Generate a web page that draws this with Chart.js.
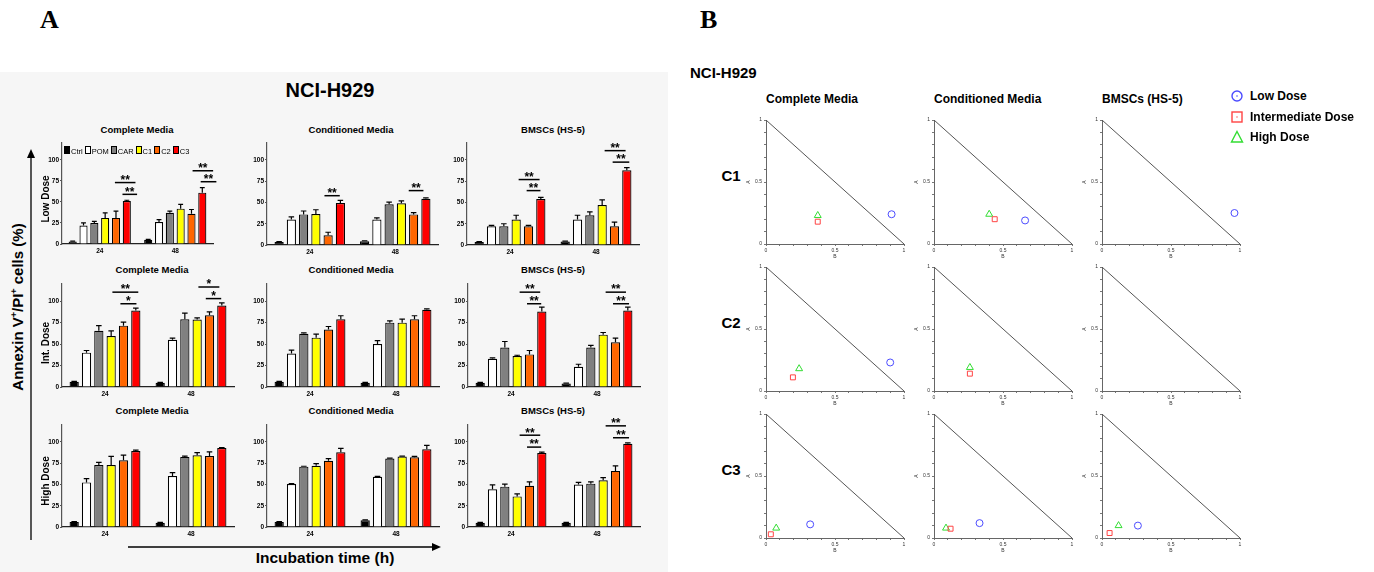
<!DOCTYPE html>
<html>
<head>
<meta charset="utf-8">
<title>NCI-H929</title>
<script src="https://cdn.jsdelivr.net/npm/chart.js@4.4.0/dist/chart.umd.min.js"></script>
<style>
    body { margin: 0; width: 1374px; height: 572px; background: #fff; position: relative; overflow: hidden;
           font-family: "Liberation Sans", Arial, sans-serif; color: #000; }
    .abs { position: absolute; }
    .panelA { left: 0; top: 72px; width: 668px; height: 500px; background: #f6f6f6; }
    .letter { font-family: "Liberation Serif", "DejaVu Serif", serif; font-weight: bold; font-size: 26px; }
    .c { transform: translate(-50%, -50%); white-space: nowrap; }
    .b { font-weight: bold; }
    .rot { transform: translate(-50%, -50%) rotate(-90deg); white-space: nowrap; }
    .leg { display: flex; align-items: center; font-size: 7.5px; gap: 2px; }
    .leg i { display: inline-block; width: 4px; height: 6px; border: 1px solid #000; margin-right: 1px; }
    .tleg { font-size: 12px; font-weight: bold; display: flex; align-items: center; }
</style>
</head>
<body>
<div class="abs panelA"></div>
<div class="abs letter" style="left:40px;top:5px;">A</div>
<div class="abs letter" style="left:700px;top:5px;">B</div>
<svg class="abs" style="left:0;top:0;" width="680" height="572">
    <line x1="31" y1="540" x2="31" y2="156" stroke="#000" stroke-width="1.3"/>
    <polygon points="27,158 35,158 31,149" fill="#000"/>
    <line x1="128" y1="547" x2="434" y2="547" stroke="#000" stroke-width="1.3"/>
    <polygon points="432,543 432,551 441,547" fill="#000"/>
</svg>
<div id="root"></div>
<script>
// Categories
const treatments = ['Ctrl', 'POM', 'CAR', 'C1', 'C2', 'C3'];
const hours = ['24', '48'];
const media = ['Complete Media', 'Conditioned Media', 'BMSCs (HS-5)'];
const doseNames = ['Low Dose', 'Int. Dose', 'High Dose'];
const combos = ['C1', 'C2', 'C3'];
const barColors = ['#000000', '#ffffff', '#808080', '#ffff00', '#ff6600', '#ff0000'];
const yTicks = [0, 25, 50, 75, 100];

// % Annexin V+/PI+ cells: [24 h], [48 h], order Ctrl..C3
const lowComplete = [[3, 22, 25, 31, 31, 51], [5, 26, 37, 42, 36, 61]];
const lowCompleteErr = [[0.5, 3, 2, 6, 8, 1], [0.5, 3, 2, 5, 5, 6]];
const lowConditioned = [[3.5, 30, 36, 36.5, 11.5, 49.5], [4.5, 30, 48, 49, 36, 54.5]];
const lowConditionedErr = [[0.5, 3, 4, 5, 3.5, 3], [0.5, 2, 2.5, 3, 2, 1]];
const lowBmsc = [[3.5, 22, 22, 30, 22, 54], [4, 30, 35, 47, 22, 88]];
const lowBmscErr = [[0.5, 1, 3, 5, 1, 2], [0.5, 5, 4, 6, 5, 3]];

const intComplete = [[6, 40, 65.5, 59.5, 71.5, 89], [5, 55, 79, 78.5, 83.5, 95]];
const intCompleteErr = [[0.5, 2.5, 6, 6, 4, 3], [0.5, 2, 7, 2, 4, 3]];
const intConditioned = [[6, 39, 62, 57.5, 67, 79], [5, 50, 75, 75, 79, 90]];
const intConditionedErr = [[0.5, 4, 1, 4, 3.5, 4], [0.5, 4, 2, 4, 4, 1]];
const intBmsc = [[5, 33, 46, 36, 38, 88], [4, 23.5, 46, 61, 52, 89]];
const intBmscErr = [[0.5, 1, 7, 1, 4.5, 5], [0.5, 3, 2.5, 2.5, 5, 4]];

const highComplete = [[6, 52.5, 73, 73, 78.5, 89.5], [5, 60, 82.5, 84.5, 83.5, 93]];
const highCompleteErr = [[0.5, 4.5, 3, 10, 6, 1], [0.5, 4, 1, 3, 5, 0.5]];
const highConditioned = [[6, 50.5, 71, 72, 78, 88], [8, 59, 80.5, 83, 82, 91.5]];
const highConditionedErr = [[0.5, 0.5, 0.5, 2.5, 2.5, 4.5], [0.5, 0.5, 0.5, 0.5, 1, 4.5]];
const highBmsc = [[5, 44.5, 47.5, 36, 48.5, 87], [5, 50, 51, 55, 66, 98]];
const highBmscErr = [[0.5, 5, 3, 3, 4.5, 1], [0.5, 2.5, 2, 3, 6, 1]];

// significance bars: [time index, from bar, to bar, height (%), label]
const lowCompleteSig = [[0, 3.9, 5.8, 73, '**'], [0, 4.6, 5.95, 59, '**'], [1, 4.1, 6.0, 87, '**'], [1, 4.85, 6.3, 74, '**']];
const lowConditionedSig = [[0, 3.7, 4.95, 58, '**'], [1, 3.6, 4.8, 64, '**']];
const lowBmscSig = [[0, 3.2, 4.9, 77, '**'], [0, 3.85, 4.97, 64, '**'], [1, 3.2, 4.9, 111, '**'], [1, 3.85, 5.2, 97.5, '**']];
const intCompleteSig = [[0, 3.1, 5.2, 110.5, '**'], [0, 3.75, 5.05, 97, '*'], [1, 3.1, 4.8, 116.5, '*'], [1, 3.7, 4.95, 103, '*']];
const intBmscSig = [[0, 3.2, 4.87, 110.5, '**'], [0, 3.8, 4.95, 97, '**'], [1, 3.2, 4.85, 110.5, '**'], [1, 3.8, 5.1, 97, '**']];
const highBmscSig = [[0, 3.2, 4.87, 108, '**'], [0, 3.8, 4.95, 94, '**'], [1, 3.2, 4.85, 119, '**'], [1, 3.8, 5.1, 105, '**']];

// Panel B: [B, A] coordinates, rows C1..C3, columns per medium
const lowDosePts = [[[0.91, 0.24], [0.66, 0.19], [0.96, 0.25]],
                    [[0.90, 0.23], null, null],
                    [[0.32, 0.11], [0.33, 0.12], [0.26, 0.10]]];
const intDosePts = [[[0.375, 0.18], [0.44, 0.20], null],
                    [[0.195, 0.11], [0.26, 0.14], null],
                    [[0.035, 0.03], [0.12, 0.075], [0.055, 0.04]]];
const highDosePts = [[[0.375, 0.23], [0.40, 0.24], null],
                     [[0.24, 0.18], [0.26, 0.19], null],
                     [[0.074, 0.08], [0.087, 0.08], [0.12, 0.10]]];
const boundaryLine = [[0, 1], [1, 0]];
const doseLegend = ['Low Dose', 'Intermediate Dose', 'High Dose'];
const doseColors = ['#4b4bff', '#ff4444', '#33dd33'];
const doseShapes = ['circle', 'rect', 'triangle'];

Chart.defaults.font.family = '"Liberation Sans", Arial, sans-serif';
Chart.defaults.color = '#000';

const root = document.getElementById('root');

function addText(html, x, y, cls, size) {
    const d = document.createElement('div');
    d.className = 'abs ' + cls;
    d.style.left = x + 'px';
    d.style.top = y + 'px';
    d.style.fontSize = size + 'px';
    d.innerHTML = html;
    root.appendChild(d);
    return d;
}

function addCanvas(left, top, w, h) {
    const cv = document.createElement('canvas');
    cv.className = 'abs';
    cv.width = w;
    cv.height = h;
    cv.style.left = left + 'px';
    cv.style.top = top + 'px';
    cv.style.width = w + 'px';
    cv.style.height = h + 'px';
    root.appendChild(cv);
    return cv;
}

// error bars (upper whisker only) and significance lines
const barExtras = {
    id: 'barExtras',
    afterDatasetsDraw(chart, args, opts) {
        const ctx = chart.ctx;
        const yScale = chart.scales.y;
        ctx.save();
        ctx.strokeStyle = '#000';
        ctx.lineWidth = 1.2;
        chart.data.datasets.forEach((ds, i) => {
            chart.getDatasetMeta(i).data.forEach((bar, j) => {
                const top = yScale.getPixelForValue(ds.data[j] + ds.err[j]);
                const cap = bar.width * 0.3;
                ctx.beginPath();
                ctx.moveTo(bar.x, bar.y);
                ctx.lineTo(bar.x, top);
                ctx.moveTo(bar.x - cap, top);
                ctx.lineTo(bar.x + cap, top);
                ctx.stroke();
            });
        });
        ctx.lineWidth = 1.5;
        ctx.fillStyle = '#000';
        ctx.font = 'bold 12px "Liberation Sans", Arial, sans-serif';
        ctx.textAlign = 'center';
        ctx.textBaseline = 'bottom';
        (opts.sig || []).forEach(([g, a, b, y, label]) => {
            const x0 = chart.getDatasetMeta(0).data[g].x;
            const step = chart.getDatasetMeta(1).data[g].x - x0;
            const xa = x0 + a * step, xb = x0 + b * step;
            const py = yScale.getPixelForValue(y);
            ctx.beginPath();
            ctx.moveTo(xa, py);
            ctx.lineTo(xb, py);
            ctx.stroke();
            ctx.fillText(label, (xa + xb) / 2, py + 4);
        });
        ctx.restore();
    }
};

function makeBarChart(p) {
    const [L, R, T, B] = p.box;
    const wy = 22, hx = 14, padT = 14, padR = 4;
    const cv = addCanvas(L - wy, T - padT, R - L + wy + padR, B - T + padT + hx);
    new Chart(cv, {
        type: 'bar',
        data: {
            labels: hours,
            datasets: treatments.map((t, i) => ({
                label: t,
                data: [p.values[0][i], p.values[1][i]],
                err: [p.errors[0][i], p.errors[1][i]],
                backgroundColor: barColors[i],
                borderColor: '#000',
                borderWidth: 1.2,
                borderSkipped: 'start',
                categoryPercentage: 0.86,
                barPercentage: 0.75
            }))
        },
        options: {
            responsive: false,
            animation: false,
            layout: { padding: { top: padT, right: padR, left: 0, bottom: 0 } },
            plugins: { legend: { display: false }, tooltip: { enabled: false }, barExtras: { sig: p.sig } },
            scales: {
                x: {
                    grid: { display: false, drawTicks: false },
                    border: { display: true, color: '#222', width: 1.3 },
                    ticks: { font: { size: 6.5, weight: 'bold' }, padding: 3 },
                    afterFit: s => { s.height = hx; }
                },
                y: {
                    min: 0,
                    max: 120,
                    afterBuildTicks: s => { s.ticks = yTicks.map(v => ({ value: v })); },
                    ticks: { font: { size: 6.5, weight: 'bold' }, padding: 1 },
                    grid: { drawOnChartArea: false, tickLength: 2, color: '#555' },
                    border: { color: '#555', width: 1.2 },
                    afterFit: s => { s.width = wy; }
                }
            }
        },
        plugins: [barExtras]
    });
}

function makeTernary(row, col, L, T) {
    const w = 138, h = 125, wy = 20, hx = 16, padT = 4, padR = 5;
    const cv = addCanvas(L - wy, T - padT, w + wy + padR, h + padT + hx);
    const pts = [lowDosePts, intDosePts, highDosePts];
    const datasets = [{
        type: 'line',
        data: boundaryLine.map(([x, y]) => ({ x, y })),
        borderColor: '#555',
        borderWidth: 1,
        pointRadius: 0
    }];
    pts.forEach((set, k) => {
        const pt = set[row][col];
        datasets.push({
            type: 'scatter',
            label: doseLegend[k],
            data: pt ? [{ x: pt[0], y: pt[1] }] : [],
            pointStyle: doseShapes[k],
            pointRadius: k === 2 ? 4 : 3.5,
            borderColor: doseColors[k],
            backgroundColor: 'rgba(0,0,0,0)',
            borderWidth: 1
        });
    });
    const tickLabel = v => (Math.abs(v) < 1e-6 ? '0' : Math.abs(v - 0.5) < 1e-6 ? '0.5' : Math.abs(v - 1) < 1e-6 ? '1' : '');
    const axis = (title, fit) => ({
        type: 'linear',
        min: 0,
        max: 1,
        ticks: { stepSize: 0.1, autoSkip: false, maxRotation: 0, callback: tickLabel, font: { size: 5 }, color: '#333', padding: 2 },
        grid: { drawOnChartArea: false, tickLength: 2, color: '#777' },
        border: { color: '#666', width: 1 },
        title: { display: true, text: title, font: { size: 5 }, color: '#333', padding: 0 },
        afterFit: fit
    });
    new Chart(cv, {
        type: 'scatter',
        data: { datasets },
        options: {
            responsive: false,
            animation: false,
            layout: { padding: { top: padT, right: padR, left: 0, bottom: 0 } },
            plugins: { legend: { display: false }, tooltip: { enabled: false } },
            scales: {
                x: axis('B', s => { s.height = hx; }),
                y: axis('A', s => { s.width = wy; })
            }
        }
    });
}

// ---- Panel A ----
addText('NCI-H929', 330, 90, 'c b', 20);
addText('Annexin V<sup style="font-size:9px">+</sup>/PI<sup style="font-size:9px">+</sup> cells (%)', 17, 307, 'rot b', 15);
addText('Incubation time (h)', 325, 558, 'c b', 15.5);

const barPanels = [
    { values: lowComplete, errors: lowCompleteErr, sig: lowCompleteSig, box: [62, 213, 143, 244], title: [137, 129] },
    { values: lowConditioned, errors: lowConditionedErr, sig: lowConditionedSig, box: [267, 438, 143, 245], title: [351, 129] },
    { values: lowBmsc, errors: lowBmscErr, sig: lowBmscSig, box: [467, 639, 143, 245], title: [553, 129] },
    { values: intComplete, errors: intCompleteErr, sig: intCompleteSig, box: [62, 234, 284, 387], title: [152, 269] },
    { values: intConditioned, errors: intConditionedErr, sig: [], box: [267, 439, 284, 387], title: [351, 269] },
    { values: intBmsc, errors: intBmscErr, sig: intBmscSig, box: [468, 640, 284, 387], title: [553, 269] },
    { values: highComplete, errors: highCompleteErr, sig: [], box: [62, 234, 425, 527], title: [152, 410] },
    { values: highConditioned, errors: highConditionedErr, sig: [], box: [267, 439, 425, 527], title: [351, 410] },
    { values: highBmsc, errors: highBmscErr, sig: highBmscSig, box: [468, 640, 425, 527], title: [553, 410] }
];
barPanels.forEach((p, i) => {
    addText(media[i % 3], p.title[0], p.title[1], 'c b', 9.5);
    makeBarChart(p);
});
addText(doseNames[0], 45, 199, 'rot b', 10);
addText(doseNames[1], 45, 343, 'rot b', 10);
addText(doseNames[2], 45, 481, 'rot b', 10);

// legend inside first panel
const leg = document.createElement('div');
leg.className = 'abs leg';
leg.style.left = '64px';
leg.style.top = '146px';
leg.innerHTML = treatments.map((t, i) => `<span><i style="background:${barColors[i]}"></i>${t}</span>`).join('');
root.appendChild(leg);

// ---- Panel B ----
addText('NCI-H929', 690, 64, 'b', 15);
const colLeft = [766, 934, 1102];
const rowTop = [119, 266, 413];
media.forEach((m, c) => addText(m, colLeft[c], 92, 'b', 12));
combos.forEach((name, r) => addText(name, 731, rowTop[r] + 56, 'c b', 15));
rowTop.forEach((t, r) => colLeft.forEach((l, c) => makeTernary(r, c, l, t)));

const markerSvg = [
    '<svg width="14" height="14"><circle cx="7" cy="7" r="5" fill="none" stroke="#4b4bff" stroke-width="1.4"/><circle cx="7" cy="7" r="0.8" fill="#4b4bff"/></svg>',
    '<svg width="14" height="14"><rect x="2" y="2" width="10" height="10" fill="none" stroke="#ff4444" stroke-width="1.4"/><circle cx="7" cy="7" r="0.7" fill="#ff4444"/></svg>',
    '<svg width="14" height="14"><polygon points="7,1.5 12.5,12 1.5,12" fill="none" stroke="#33dd33" stroke-width="1.4"/></svg>'
];
doseLegend.forEach((name, k) => {
    addText(`<span style="width:16px;display:inline-flex;margin-right:4px">${markerSvg[k]}</span>${name}`, 1230, 89 + k * 20.5, 'tleg', 12);
});
</script>
</body>
</html>
